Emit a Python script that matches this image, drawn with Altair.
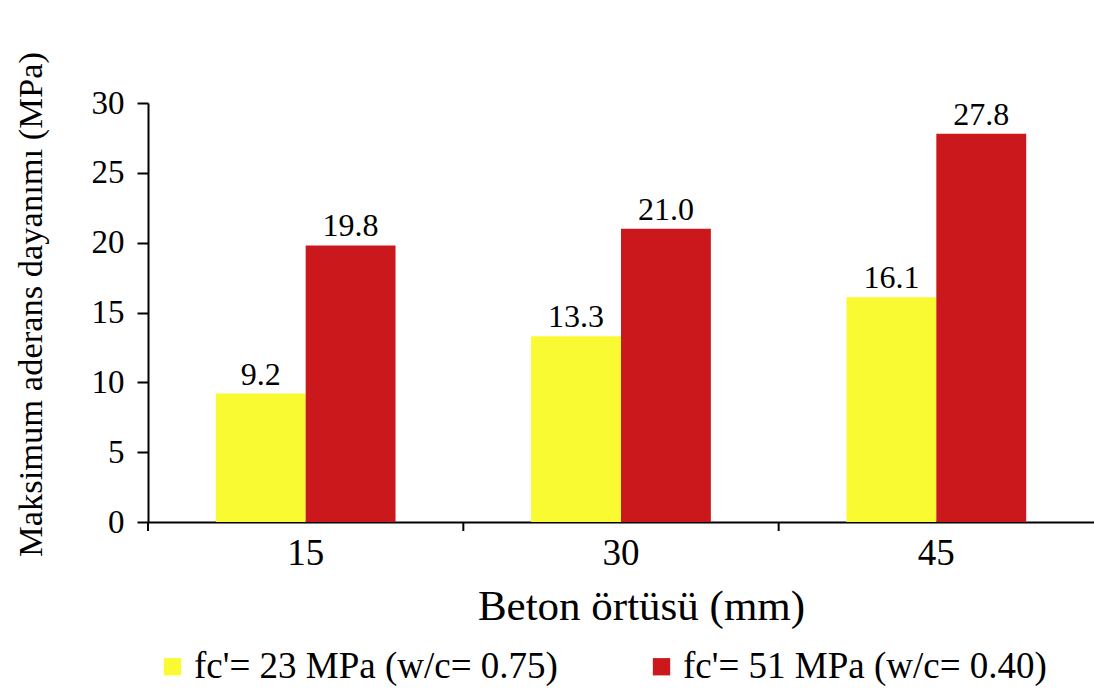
import altair as alt
import pandas as pd

covers = ["15", "30", "45"]
series = ["fc'= 23 MPa (w/c= 0.75)", "fc'= 51 MPa (w/c= 0.40)"]
vals_23 = [9.2, 13.3, 16.1]
vals_51 = [19.8, 21.0, 27.8]
y_ticks = [0, 5, 10, 15, 20, 25, 30]
boundaries = [0, 1, 2]   # category boundaries (index) where x ticks sit
colors = ["#FAFA32", "#CB181D"]

rows = []
for i, c in enumerate(covers):
    rows.append({"cover": c, "series": series[0], "value": vals_23[i]})
    rows.append({"cover": c, "series": series[1], "value": vals_51[i]})
df = pd.DataFrame(rows)
df["label"] = df["value"].map(lambda v: f"{v:.1f}")
ticks_df = pd.DataFrame({"b": boundaries})

FONT = "Liberation Serif"
XTITLE = "Beton örtüsü (mm)"
YTITLE = "Maksimum aderans dayanımı (MPa)"

xscale = alt.Scale(domain=covers, paddingInner=0.43, paddingOuter=0.215)

x_axis = alt.Axis(
    title=XTITLE, labelAngle=0, ticks=False, labelFontSize=37, labelPadding=13,
    labelFont=FONT, labelColor="black", titleFont=FONT, titleFontSize=43,
    titleFontWeight="normal", titleColor="black", titleX=493, titleY=97,
    titleBaseline="alphabetic", domainWidth=2, domainColor="black",
)
y_axis = alt.Axis(
    values=y_ticks, title=YTITLE, titleFont=FONT, titleFontSize=34.5,
    titleFontWeight="normal", titleColor="black", titleX=-100, titleY=201,
    labelFont=FONT, labelFontSize=33, labelColor="black", labelPadding=13,
    tickSize=11, tickWidth=2, tickColor="black", domainWidth=2,
    domainColor="black", grid=False,
)

x_enc = alt.X("cover:N", scale=xscale, sort=covers, axis=x_axis)
xo_enc = alt.XOffset("series:N", sort=series, scale=alt.Scale(domain=series, paddingInner=0, paddingOuter=0))
y_enc = alt.Y("value:Q", scale=alt.Scale(domain=[0, 30], nice=False), axis=y_axis)

bars = alt.Chart(df).mark_bar().encode(
    x=x_enc,
    xOffset=xo_enc,
    y=y_enc,
    color=alt.Color(
        "series:N", sort=series,
        scale=alt.Scale(domain=series, range=colors),
        legend=alt.Legend(
            title=None, orient="none", legendX=6, legendY=545,
            direction="horizontal", symbolType="square", symbolSize=300,
            symbolStrokeWidth=0, labelFontSize=37, labelFont=FONT,
            labelColor="black", columnPadding=85, labelOffset=3,
            labelLimit=600,
        ),
    ),
)

labels = alt.Chart(df).mark_text(
    baseline="alphabetic", dy=-9, fontSize=32, font=FONT, color="black"
).encode(
    x=x_enc,
    xOffset=xo_enc,
    y=y_enc,
    text="label:N",
)

bar_layer = alt.layer(bars, labels)

xticks = alt.Chart(ticks_df).mark_rule(color="black", strokeWidth=2).encode(
    x=alt.X("b:Q", scale=alt.Scale(domain=[0, 3], nice=False, zero=False), axis=None),
    y=alt.value(419),
    y2=alt.value(428),
)

chart = alt.layer(bar_layer, xticks).resolve_scale(x="independent").properties(
    width=946,
    height=419,
    padding={"left": 148, "top": 103, "right": 0, "bottom": 168},
    autosize=alt.AutoSizeParams(type="none"),
    background="white",
).configure_view(stroke=None)

chart.save("out.html", embed_options={"renderer": "svg", "actions": False})
